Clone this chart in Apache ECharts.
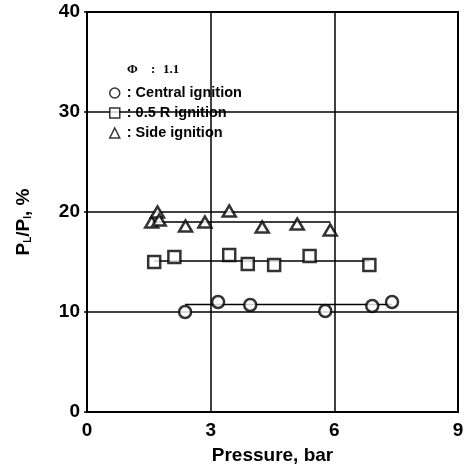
<!DOCTYPE html>
<html>
<head>
<meta charset="utf-8">
<script src="https://cdn.jsdelivr.net/npm/echarts@6/dist/echarts.min.js"></script>
<style>
html,body{margin:0;padding:0;background:#fff;}
#c{width:469px;height:472px;}
</style>
</head>
<body>
<div id="c"></div>
<script>
// Data
var xTicks = [0, 3, 6, 9];
var yTicks = [0, 10, 20, 30, 40];
var seriesNames = [': Central ignition', ': 0.5 R ignition', ': Side ignition'];

var centralX = [2.38, 3.18, 3.96, 5.78, 6.92, 7.40];
var centralY = [10.0, 11.0, 10.7, 10.1, 10.6, 11.0];

var halfRX = [1.63, 2.12, 3.45, 3.90, 4.54, 5.40, 6.85];
var halfRY = [15.0, 15.5, 15.7, 14.8, 14.7, 15.6, 14.7];

var sideX = [1.57, 1.71, 1.75, 2.39, 2.86, 3.45, 4.25, 5.10, 5.90];
var sideY = [19.0, 20.0, 19.2, 18.6, 19.0, 20.1, 18.5, 18.8, 18.2];

// fitted horizontal lines: [xStart, xEnd], level
var centralFitX = [2.38, 7.40]; var centralFitY = 10.75;
var halfRFitX = [1.63, 6.85];   var halfRFitY = 15.1;
var sideFitX = [1.57, 5.90];    var sideFitY = 19.0;

function pairs(xs, ys) { return xs.map(function (x, i) { return [x, ys[i]]; }); }
function flat(xs, y) { return xs.map(function (x) { return [x, y]; }); }

var FONT = '"Liberation Sans", Arial, Helvetica, sans-serif';
var SERIF = 'bold 13px "Liberation Serif", "Times New Roman", serif';
var markerStyle = { color: '#fff', borderColor: '#000', borderWidth: 2.5 };

var chart = echarts.init(document.getElementById('c'), null, { renderer: 'canvas' });
chart.setOption({
  backgroundColor: '#fff',
  animation: false,
  grid: { left: 87, right: 11, top: 12, bottom: 60, show: true, borderColor: '#000', borderWidth: 2, backgroundColor: 'transparent' },
  graphic: [
    { type: 'text', left: 127, top: 63, style: { text: '\u03A6', font: SERIF, fill: '#000' } },
    { type: 'text', left: 151, top: 63, style: { text: ':', font: SERIF, fill: '#000' } },
    { type: 'text', left: 163, top: 63, style: { text: '1.1', font: SERIF, fill: '#000' } }
  ],
  legend: {
    orient: 'vertical', left: 104, top: 80, itemWidth: 10, itemHeight: 10, itemGap: 4,
    data: [
      { name: seriesNames[0], icon: 'circle' },
      { name: seriesNames[1], icon: 'rect' },
      { name: seriesNames[2], icon: 'triangle' }
    ],
    itemStyle: { color: '#fff', borderColor: '#000', borderWidth: 1.5 },
    textStyle: { fontFamily: FONT, fontWeight: 'bold', fontSize: 14.5, color: '#000', lineHeight: 16, padding: [0, 0, 0, 2] },
    selectedMode: false
  },
  xAxis: {
    type: 'value', min: xTicks[0], max: xTicks[xTicks.length - 1], interval: 3,
    name: 'Pressure, bar', nameLocation: 'middle', nameGap: 34,
    nameTextStyle: { fontFamily: FONT, fontWeight: 'bold', fontSize: 19, color: '#000' },
    axisLine: { show: true, lineStyle: { color: '#000', width: 2 } },
    axisTick: { show: false },
    axisLabel: { fontFamily: FONT, fontWeight: 'bold', fontSize: 19, color: '#000', margin: 9 },
    splitLine: { show: true, lineStyle: { color: '#000', width: 1.5 } }
  },
  yAxis: {
    type: 'value', min: yTicks[0], max: yTicks[yTicks.length - 1], interval: 10,
    name: '{a|P}{s|L}{a|/P}{s|I}{a|, %}', nameLocation: 'middle', nameGap: 54, nameRotate: 90,
    nameTextStyle: {
      padding: [0, 20, 0, 0],
      rich: {
        a: { fontFamily: FONT, fontWeight: 'bold', fontSize: 19, color: '#000' },
        s: { fontFamily: FONT, fontWeight: 'bold', fontSize: 10, color: '#000', verticalAlign: 'bottom', padding: [6, 0, 0, 0] }
      }
    },
    axisLine: { show: true, lineStyle: { color: '#000', width: 2 } },
    axisTick: { show: true, length: 3, lineStyle: { color: '#000', width: 1.5 } },
    axisLabel: { fontFamily: FONT, fontWeight: 'bold', fontSize: 19, color: '#000', margin: 7 },
    splitLine: { show: true, lineStyle: { color: '#000', width: 1.5 } }
  },
  series: [
    { name: 'fitC', type: 'line', data: flat(centralFitX, centralFitY), symbol: 'none', lineStyle: { color: '#000', width: 1.5 }, z: 2 },
    { name: 'fitH', type: 'line', data: flat(halfRFitX, halfRFitY), symbol: 'none', lineStyle: { color: '#000', width: 1.5 }, z: 2 },
    { name: 'fitS', type: 'line', data: flat(sideFitX, sideFitY), symbol: 'none', lineStyle: { color: '#000', width: 1.5 }, z: 2 },
    { name: seriesNames[0], type: 'scatter', symbol: 'circle', symbolSize: 12, data: pairs(centralX, centralY), itemStyle: markerStyle, z: 5 },
    { name: seriesNames[1], type: 'scatter', symbol: 'rect', symbolSize: 12, data: pairs(halfRX, halfRY), itemStyle: markerStyle, z: 5 },
    { name: seriesNames[2], type: 'scatter', symbol: 'triangle', symbolSize: [13, 11], data: pairs(sideX, sideY), itemStyle: markerStyle, z: 5 }
  ]
});
</script>
</body>
</html>
